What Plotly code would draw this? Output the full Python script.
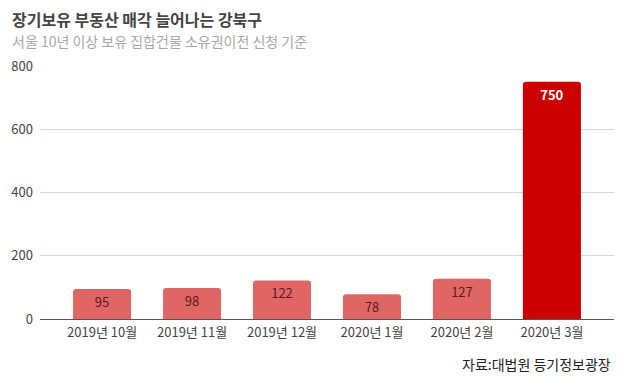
import plotly.graph_objects as go

categories = ["2019년 10월", "2019년 11월", "2019년 12월", "2020년 1월", "2020년 2월", "2020년 3월"]
values = [95, 98, 122, 78, 127, 750]
bar_colors = ["#e06666", "#e06666", "#e06666", "#e06666", "#e06666", "#cc0000"]
text_colors = ["#5b1b1b", "#5b1b1b", "#5b1b1b", "#5b1b1b", "#5b1b1b", "#ffffff"]
y_ticks = [0, 200, 400, 600, 800]

FONT = "Noto Sans CJK KR"

labels = [str(v) for v in values]
labels[-1] = "<b>" + labels[-1] + "</b>"

fig = go.Figure(go.Bar(
    x=list(range(len(categories))),
    y=values,
    width=0.645,
    marker=dict(color=bar_colors, line=dict(width=0), cornerradius=3),
    text=labels,
    textposition="inside",
    insidetextanchor="end",
    textfont=dict(family=FONT, size=13, color=text_colors),
    textangle=0,
    hoverinfo="skip",
))

fig.update_layout(
    width=630, height=385,
    margin=dict(l=32, r=24, t=58, b=74, autoexpand=False),
    paper_bgcolor="white", plot_bgcolor="white",
    font=dict(family=FONT, color="#444"),
    showlegend=False,
    xaxis=dict(
        range=[-0.69, 5.69],
        tickmode="array",
        tickvals=list(range(len(categories))),
        ticktext=categories,
        tickfont=dict(size=13, color="#444", family=FONT),
        showgrid=False, zeroline=False, showline=False, ticks="",
        ticklabelstandoff=4,
        fixedrange=True,
    ),
    yaxis=dict(
        range=[0, 800],
        tickvals=y_ticks,
        tickfont=dict(size=13, color="#444", family=FONT),
        showgrid=True, gridcolor="#d9d9d9", gridwidth=1,
        zeroline=True, zerolinecolor="#555", zerolinewidth=1,
        ticks="", ticklabelstandoff=6,
        fixedrange=True,
    ),
    annotations=[
        dict(text="<b>장기보유 부동산 매각 늘어나는 강북구</b>", xref="paper", yref="paper",
             x=-0.0523, y=1.1858, xanchor="left", yanchor="middle",
             showarrow=False, font=dict(family=FONT, size=16, color="#444")),
        dict(text="서울 10년 이상 보유 집합건물 소유권이전 신청 기준", xref="paper", yref="paper",
             x=-0.0523, y=1.0988, xanchor="left", yanchor="middle",
             showarrow=False, font=dict(family=FONT, size=14, color="#a8a8a8")),
        dict(text="자료:대법원 등기정보광장", xref="paper", yref="paper",
             x=0.9983, y=-0.178, xanchor="right", yanchor="middle",
             showarrow=False, font=dict(family=FONT, size=14, color="#222")),
    ],
)

fig.write_html("out.html")
